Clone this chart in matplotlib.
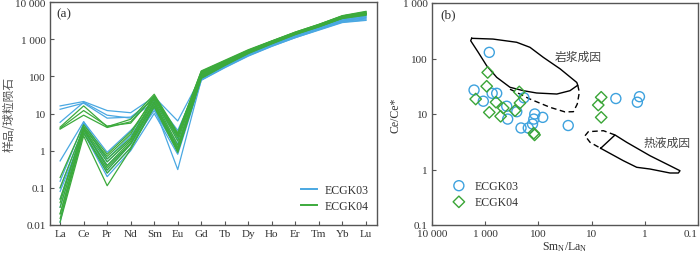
import matplotlib
matplotlib.use("Agg")
import matplotlib.pyplot as plt
from matplotlib.ticker import FixedLocator, FixedFormatter

plt.rcParams['font.family'] = ['Liberation Serif', 'Noto Sans CJK SC', 'DejaVu Sans']
plt.rcParams['mathtext.fontset'] = 'custom'
plt.rcParams['mathtext.rm'] = 'Liberation Serif'
plt.rcParams['mathtext.it'] = 'Liberation Serif:italic'

CJK = ['Noto Sans CJK SC', 'DejaVu Sans']

# ---- panel (a): chondrite normalised REE patterns ----
ree = ['La', 'Ce', 'Pr', 'Nd', 'Sm', 'Eu', 'Gd', 'Tb', 'Dy', 'Ho', 'Er', 'Tm', 'Yb', 'Lu']

ecgk03_ree = [
    [16, 21, 12, 10.5, 28, 6.3, 100, 200, 400, 720, 1250, 2000, 3200, 3800],
    [13, 19, 7.5, 8, 24, 3.5, 95, 190, 380, 700, 1200, 1900, 3100, 3700],
    [5.8, 20, 9, 7.5, 20, 2.5, 90, 180, 370, 680, 1150, 1850, 3000, 3500],
    [0.53, 6, 0.9, 3.5, 15, 0.31, 80, 175, 360, 650, 1100, 1800, 2900, 3300],
    [0.1, 4, 0.4, 1.5, 12, 1.0, 85, 185, 390, 700, 1250, 2000, 3300, 4000],
    [0.05, 3.5, 0.25, 1.2, 14, 1.2, 90, 195, 400, 730, 1300, 2100, 3500, 4200],
    [0.08, 3, 0.2, 1.0, 10, 0.8, 78, 170, 350, 640, 1100, 1750, 2800, 3200],
    [0.15, 5.5, 0.5, 2, 18, 1.5, 100, 215, 430, 780, 1350, 2200, 3600, 4500],
    [0.03, 4, 0.3, 1.5, 16, 1.2, 95, 205, 420, 760, 1300, 2150, 3500, 4300],
    [0.012, 6, 0.6, 2.5, 22, 2, 110, 230, 460, 830, 1450, 2350, 3900, 5000],
]

ecgk04_ree = [
    [4.3, 16, 4.4, 7, 33, 3, 135, 260, 500, 880, 1500, 2400, 4000, 5000],
    [3.8, 9, 4.2, 6, 28, 2.5, 125, 245, 480, 850, 1450, 2350, 3900, 4800],
    [4.0, 12, 4.6, 5.5, 30, 2.8, 140, 270, 520, 900, 1550, 2500, 4200, 5300],
    [0.19, 5, 0.8, 3.2, 26, 2.2, 115, 240, 470, 840, 1450, 2350, 3900, 4900],
    [0.03, 3.5, 0.4, 1.8, 20, 1.2, 100, 215, 440, 800, 1400, 2250, 3800, 4700],
    [0.02, 3, 0.3, 1.5, 18, 1.0, 95, 210, 430, 780, 1380, 2200, 3700, 4600],
    [0.012, 2.5, 0.114, 1.1, 15, 0.9, 90, 200, 420, 760, 1350, 2150, 3600, 4400],
    [0.05, 4, 0.5, 2, 24, 1.4, 110, 230, 460, 830, 1450, 2350, 4000, 5000],
    [0.015, 3, 0.25, 1.2, 16, 0.95, 88, 195, 410, 750, 1330, 2150, 3700, 4600],
    [0.04, 4.5, 0.6, 2.2, 27, 1.8, 120, 245, 480, 860, 1500, 2450, 4200, 5400],
    [0.02, 3.8, 0.35, 1.6, 21, 1.1, 105, 225, 450, 820, 1420, 2300, 3900, 4900],
    [0.1, 4.2, 0.7, 2.8, 30, 2.6, 130, 255, 500, 890, 1550, 2500, 4300, 5600],
]

# ---- panel (b): Ce/Ce* vs SmN/LaN ----
ecgk03_sm_la = [838, 1620, 1085, 740, 608, 187, 394, 255, 378, 117, 83, 122, 129, 212, 155, 27.5, 3.5, 1.26, 1.38]
ecgk03_ce = [129, 27, 17, 23.6, 23.6, 19.6, 13.8, 11, 8.1, 10, 8.7, 8.1, 6.6, 5.6, 5.6, 6.2, 19, 20.5, 16.3]

ecgk04_sm_la = [898, 938, 1510, 627, 838, 457, 513, 275, 222, 229, 122, 118, 6.6, 7.5, 6.6]
ecgk04_ce = [56, 31.6, 18.6, 16.3, 10.7, 12.8, 9.1, 11.5, 15.8, 25, 4.5, 4.2, 20, 14.5, 8.7]

magma_x = [1795, 713, 256, 144, 81, 39, 19, 18.2, 25.5, 45, 108, 192, 342, 608, 938, 1350, 1875, 1795]
magma_y = [231, 224, 196, 159, 105, 65, 37, 33, 26.3, 22.9, 23.9, 26.3, 30.3, 45.8, 74, 129, 209, 231]
magma_dash_x = [342, 144, 60.5, 31.6, 22, 18.6, 17, 18.2]
magma_dash_y = [28, 18.6, 13.2, 10.9, 11, 15.1, 24.6, 33]

hydro_x = [6.75, 3.63, 2.19, 0.798, 0.336, 0.218, 0.234, 0.336, 0.798, 1.42, 2.53, 6.75]
hydro_y = [2.41, 4.19, 3.09, 1.77, 1.17, 0.95, 0.865, 0.865, 1.02, 1.096, 1.44, 2.41]
hydro_dash_x = [3.63, 6.0, 11.5, 13.3, 10.7, 6.75]
hydro_dash_y = [4.19, 5.0, 4.8, 4.06, 3.09, 2.41]

blue = '#4aa8e2'
green = '#3caa3c'
spine_c = '#555555'
text_c = '#333333'

fig = plt.figure(figsize=(7, 2.55), dpi=100)
ax1 = fig.add_axes([50 / 700, 1 - 226 / 255, 327 / 700, 223 / 255])
ax2 = fig.add_axes([432 / 700, 1 - 226 / 255, 266 / 700, 222 / 255])

xs = list(range(len(ree)))
for i, row in enumerate(ecgk03_ree):
    ax1.plot(xs, row, color=blue, lw=0.9, label='ECGK03' if i == 0 else None)
for i, row in enumerate(ecgk04_ree):
    ax1.plot(xs, row, color=green, lw=0.9, label='ECGK04' if i == 0 else None)

ax1.set_yscale('log')
ax1.set_ylim(0.01, 10000)
ax1.set_xlim(-0.43, 13.47)
ax1.minorticks_off()
ax1.set_xticks(xs)
ax1.set_xticklabels(ree)
ay = [0.01, 0.1, 1, 10, 100, 1000, 10000]
ax1.yaxis.set_major_locator(FixedLocator(ay))
ax1.yaxis.set_major_formatter(FixedFormatter(['0.01', '0.1', '1', '10', '100', '1 000', '10 000']))
ax1.set_ylabel('样品/球粒陨石', family=CJK, fontsize=8.5, color='#555555', labelpad=0)
ax1.text(0.018, 0.975, '(a)', transform=ax1.transAxes, ha='left', va='top', fontsize=9.5, color=text_c)
leg = ax1.legend(loc='lower right', bbox_to_anchor=(0.995, 0.025), frameon=False, fontsize=8.5,
                 handlelength=1.4, handletextpad=0.6, labelspacing=0.35, borderaxespad=0.2)
for h in leg.get_lines():
    h.set_linewidth(1.4)
for t in leg.get_texts():
    t.set_color(text_c)

ax2.plot(magma_x, magma_y, color='black', lw=1.0)
ax2.plot(magma_dash_x, magma_dash_y, color='black', lw=1.0, ls=(0, (4, 2.5)))
ax2.plot(hydro_x, hydro_y, color='black', lw=1.0)
ax2.plot(hydro_dash_x, hydro_dash_y, color='black', lw=1.0, ls=(0, (4, 2.5)))
ax2.scatter(ecgk03_sm_la, ecgk03_ce, s=52, marker='o', facecolors='none', edgecolors='#3ea2de',
            linewidths=1.0, label='ECGK03', zorder=3)
ax2.scatter(ecgk04_sm_la, ecgk04_ce, s=34, marker='D', facecolors='none', edgecolors='#3aa537',
            linewidths=1.0, label='ECGK04', zorder=3)
ax2.text(49, 111, '岩浆成因', family=CJK, fontsize=8.5, color='#444444', ha='left', va='center')
ax2.text(1.08, 3.1, '热液成因', family=CJK, fontsize=8.5, color='#444444', ha='left', va='center')

ax2.set_xscale('log')
ax2.set_yscale('log')
ax2.set_xlim(10000, 0.1)
ax2.set_ylim(0.1, 1000)
ax2.minorticks_off()
bx = [10000, 1000, 100, 10, 1, 0.1]
ax2.xaxis.set_major_locator(FixedLocator(bx))
ax2.xaxis.set_major_formatter(FixedFormatter(['10 000', '1 000', '100', '10', '1', '0.1']))
by = [0.1, 1, 10, 100, 1000]
ax2.yaxis.set_major_locator(FixedLocator(by))
ax2.yaxis.set_major_formatter(FixedFormatter(['0.1', '1', '10', '100', '1 000']))
ax2.set_xlabel('Sm$_{\\rm N}$/La$_{\\rm N}$', fontsize=8.5, color=text_c, labelpad=1)
ax2.set_ylabel('Ce/Ce*', fontsize=8.5, color=text_c, labelpad=1)
ax2.text(0.03, 0.975, '(b)', transform=ax2.transAxes, ha='left', va='top', fontsize=9.5, color=text_c)
leg2 = ax2.legend(loc='lower left', bbox_to_anchor=(0.03, 0.045), frameon=False, fontsize=8.5,
                  handletextpad=0.3, labelspacing=0.35, borderaxespad=0.2)
for t in leg2.get_texts():
    t.set_color(text_c)

for ax in (ax1, ax2):
    for sp in ax.spines.values():
        sp.set_color(spine_c)
        sp.set_linewidth(1.0)
    ax.tick_params(direction='in', length=3, width=0.8, color=spine_c, labelsize=8,
                   labelcolor=text_c, pad=3)

# keep the last x tick label of panel (b) inside the figure
ax2.get_xticklabels()[-1].set_horizontalalignment('right')

fig.savefig('out.png', dpi=100)
